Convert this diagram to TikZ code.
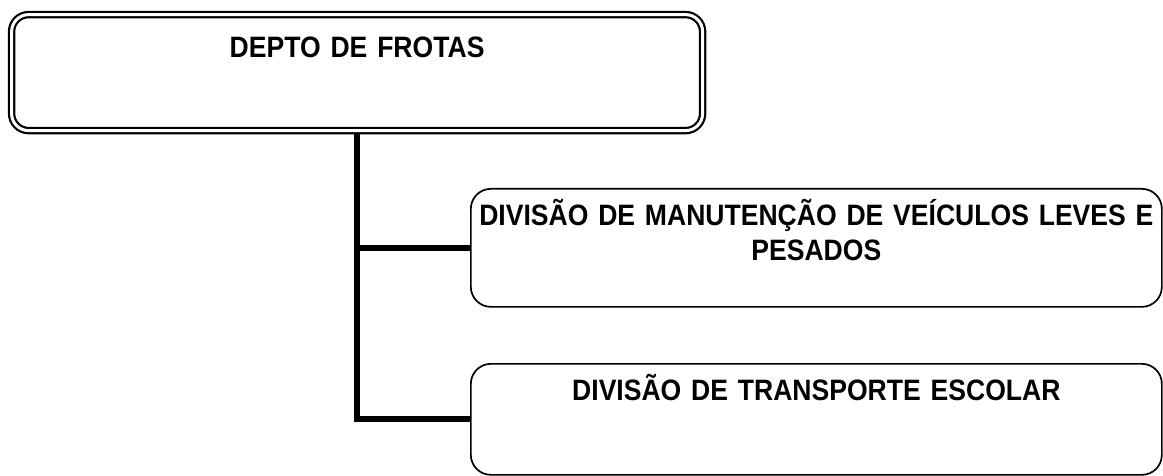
\documentclass[tikz,border=0pt]{standalone}
\usepackage{fontspec}
\setmainfont{Liberation Sans}[FakeStretch=0.9]
\usepackage{tikz}
\usetikzlibrary{positioning}
\usetikzlibrary{backgrounds}

\tikzset{
  caixa/.style={draw, line width=1.7pt, rounded corners=20pt, fill=white, inner sep=0pt,
    anchor=north west, align=center, font=\fontsize{29.5}{35}\selectfont\bfseries},
  ligacao/.style={line width=6pt}
}

\begin{document}
\begin{tikzpicture}[x=1pt,y=-1pt]
        \useasboundingbox (0,0) rectangle (1163,476);

        \node[caixa, line width=2.2pt, double=white, double distance=3pt, rounded corners=17pt,
              minimum width=691pt, text width=680pt, text height=42.5pt, text depth=73.5pt]
              (depto) at (10.5,13.5) {DEPTO DE FROTAS};
        \node[caixa, minimum width=691pt, text width=680pt, text height=37pt, text depth=81pt]
              (manut) at (470,188) {DIVISÃO DE MANUTENÇÃO DE VEÍCULOS LEVES E\\PESADOS};
        \node[caixa, minimum width=691pt, text width=680pt, text height=37pt, text depth=74pt]
              (transp) at (470,363) {DIVISÃO DE TRANSPORTE ESCOLAR};

        \begin{scope}[on background layer]
          \draw[ligacao] (depto.south) |- (manut.west);
          \draw[ligacao] (depto.south) |- (transp.west);
        \end{scope}
      \end{tikzpicture}
\end{document}
